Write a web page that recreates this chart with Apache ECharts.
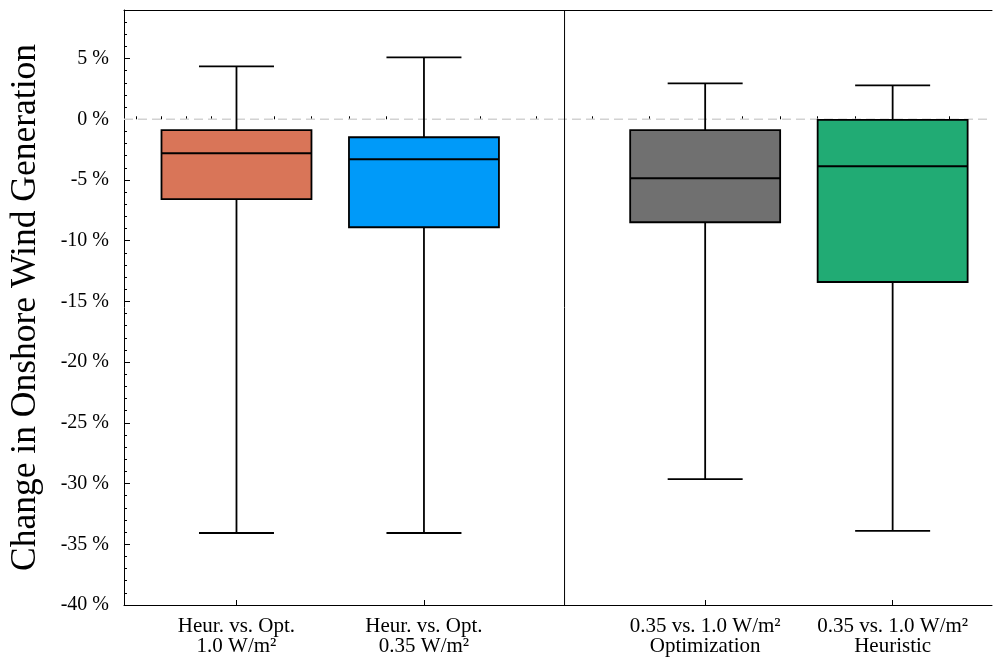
<!DOCTYPE html>
<html>
<head>
<meta charset="utf-8">
<script src="https://cdn.jsdelivr.net/npm/echarts@6/dist/echarts.min.js"></script>
<style>
  html, body { margin: 0; padding: 0; background: #fff; }
  #chart { width: 993px; height: 659px; }
</style>
</head>
<body>
<div id="chart"></div>
<script>
// Box-and-whisker summary of the change in onshore wind generation (%)
const categories = [
  'Heur. vs. Opt.\n1.0 W/m²',
  'Heur. vs. Opt.\n0.35 W/m²',
  '0.35 vs. 1.0 W/m²\nOptimization',
  '0.35 vs. 1.0 W/m²\nHeuristic'
];
const positions = [1, 2, 3.5, 4.5];
const whiskerLow = [-34.07, -34.07, -29.63, -33.9];
const q1 = [-6.58, -8.89, -8.48, -13.4];
const median = [-2.8, -3.29, -4.86, -3.87];
const q3 = [-0.9, -1.48, -0.9, -0.05];
const whiskerHigh = [4.36, 5.1, 2.96, 2.8];

const yMajorTicks = [-40, -35, -30, -25, -20, -15, -10, -5, 0, 5];
const yMinorTicks = [];
for (let v = -39; v <= 8; v++) { if (v % 5 !== 0) yMinorTicks.push(v); }
const xMinorTicks = [0.467, 0.6, 0.733, 0.867, 1.2, 1.4, 1.6, 1.8, 2.3, 2.6, 2.9, 3.2, 3.7, 3.9, 4.1, 4.3, 4.8];
const zeroLine = 0;
const dividerX = 2.75;

const boxColors = ['#d97558', '#009af9', '#707070', '#21ab74'];
const FONT = '"Liberation Serif", "Times New Roman", serif';

const boxData = positions.map((p, i) => [p, whiskerLow[i], q1[i], median[i], q3[i], whiskerHigh[i]]);

function renderBox(params, api) {
  const x = api.value(0);
  const lo = api.coord([x, api.value(1)]);
  const bot = api.coord([x, api.value(2)]);
  const med = api.coord([x, api.value(3)]);
  const top = api.coord([x, api.value(4)]);
  const hi = api.coord([x, api.value(5)]);
  const halfBox = api.size([0.4, 0])[0];
  const halfCap = api.size([0.2, 0])[0];
  const line = { stroke: '#000', lineWidth: 1.8 };
  return {
    type: 'group',
    children: [
      { type: 'line', shape: { x1: hi[0], y1: hi[1], x2: top[0], y2: top[1] }, style: line },
      { type: 'line', shape: { x1: bot[0], y1: bot[1], x2: lo[0], y2: lo[1] }, style: line },
      { type: 'line', shape: { x1: hi[0] - halfCap, y1: hi[1], x2: hi[0] + halfCap, y2: hi[1] }, style: line },
      { type: 'line', shape: { x1: lo[0] - halfCap, y1: lo[1], x2: lo[0] + halfCap, y2: lo[1] }, style: line },
      {
        type: 'rect',
        shape: { x: top[0] - halfBox, y: top[1], width: halfBox * 2, height: bot[1] - top[1] },
        style: { fill: boxColors[params.dataIndex], stroke: '#000', lineWidth: 1.8 }
      },
      { type: 'line', shape: { x1: med[0] - halfBox, y1: med[1], x2: med[0] + halfBox, y2: med[1] }, style: { stroke: '#000', lineWidth: 2 } }
    ]
  };
}

// Reference lines: dashed zero line and the solid divider between the two panels
function renderRefLines(params, api) {
  const cs = params.coordSys;
  const y0 = api.coord([dividerX, zeroLine])[1];
  const xd = api.coord([dividerX, zeroLine])[0];
  return {
    type: 'group',
    children: [
      { type: 'line', shape: { x1: cs.x, y1: y0, x2: cs.x + cs.width, y2: y0 },
        style: { stroke: '#d2d2d2', lineWidth: 1.6, lineDash: [9, 5] } },
      { type: 'line', shape: { x1: xd, y1: cs.y, x2: xd, y2: cs.y + cs.height },
        style: { stroke: '#000', lineWidth: 1 } }
    ]
  };
}

const chart = echarts.init(document.getElementById('chart'), null, { renderer: 'canvas' });
chart.setOption({
  animation: false,
  backgroundColor: '#fff',
  grid: { left: 123, right: 1, top: 10, bottom: 54, containLabel: false },
  xAxis: [
    {
      type: 'value', min: 0.4, max: 5.03, position: 'bottom',
      axisLine: { show: true, onZero: false, lineStyle: { color: '#000', width: 1 } },
      axisTick: { show: true, inside: true, length: 5, customValues: positions, lineStyle: { color: '#000' } },
      axisLabel: {
        show: true, customValues: positions, margin: 11,
        fontFamily: FONT, fontSize: 21, color: '#000', lineHeight: 20,
        formatter: v => categories[positions.indexOf(v)] || ''
      },
      splitLine: { show: false }
    },
    {
      type: 'value', min: 0.4, max: 5.03, position: 'bottom',
      axisLine: { show: false },
      axisTick: { show: true, inside: true, length: 3, customValues: xMinorTicks, lineStyle: { color: '#000' } },
      axisLabel: { show: false },
      splitLine: { show: false }
    },
    {
      type: 'value', min: 0.4, max: 5.03, position: 'top',
      axisLine: { show: true, onZero: false, lineStyle: { color: '#000', width: 1 } },
      axisTick: { show: false }, axisLabel: { show: false }, splitLine: { show: false }
    }
  ],
  yAxis: [
    {
      type: 'value', min: -40, max: 9, interval: 5, position: 'left',
      name: 'Change in Onshore Wind Generation', nameLocation: 'middle', nameGap: 80,
      nameTextStyle: { fontFamily: FONT, fontSize: 35.5, color: '#000' },
      axisLine: { show: true, onZero: false, lineStyle: { color: '#000', width: 1 } },
      axisTick: { show: true, inside: true, length: 6, customValues: yMajorTicks, lineStyle: { color: '#000' } },
      axisLabel: {
        show: true, customValues: yMajorTicks, margin: 15,
        fontFamily: FONT, fontSize: 20, color: '#000',
        formatter: v => v + ' %'
      },
      splitLine: { show: false }
    },
    {
      type: 'value', min: -40, max: 9, position: 'left',
      axisLine: { show: false },
      axisTick: { show: true, inside: true, length: 3, customValues: yMinorTicks, lineStyle: { color: '#000' } },
      axisLabel: { show: false },
      splitLine: { show: false }
    }
  ],
  series: [
    {
      type: 'custom', xAxisIndex: 0, yAxisIndex: 0, z: 1, silent: true,
      renderItem: renderRefLines,
      encode: { x: 0, y: 1 },
      data: [[dividerX, zeroLine]]
    },
    {
      type: 'custom', xAxisIndex: 0, yAxisIndex: 0, z: 3,
      renderItem: renderBox,
      encode: { x: 0, y: [1, 2, 3, 4, 5] },
      data: boxData
    }
  ]
});
</script>
</body>
</html>
